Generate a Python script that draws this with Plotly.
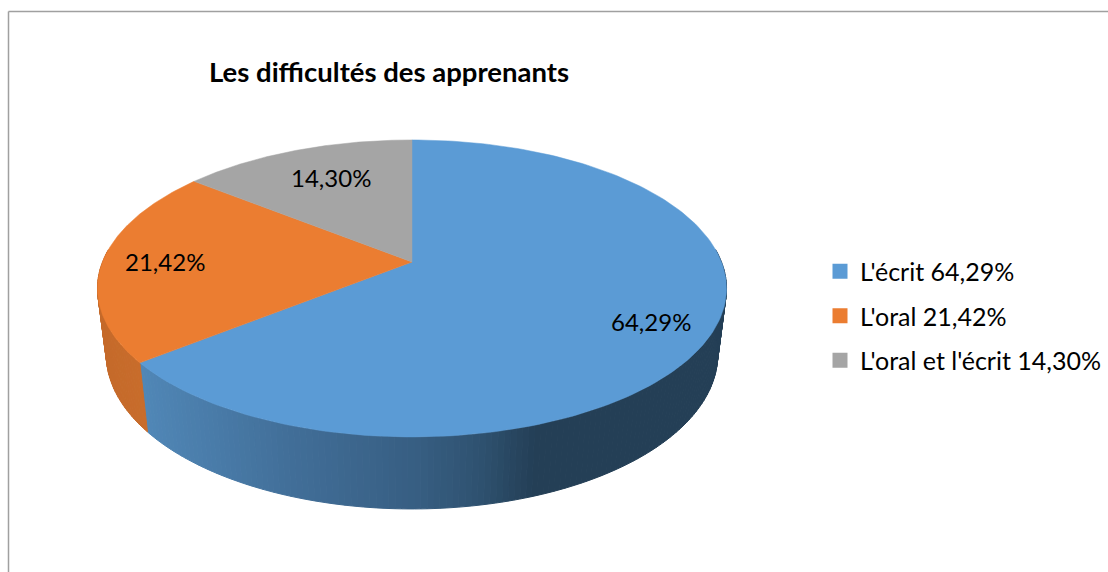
import numpy as np
import plotly.graph_objects as go

# Chart data
categories = ["L'écrit", "L'oral", "L'oral et l'écrit"]
values = [64.29, 21.42, 14.30]
slice_colors = ["#5B9BD5", "#EB7D31", "#A5A5A5"]
chart_title = "Les difficultés des apprenants"

# Perspective of the tilted disc, in pixels of the picture
CX, CY = 412, 262
RX, RY = 309.5, 143.8
TILT = 0.178
SIDE_DROP = 65
SIDE_SX, SIDE_SY = 0.972, 1.04

# Shading of the pie's wall, as (x pixel, colour)
side_shades = {
    "#5B9BD5": [(140, "#5188b8"), (290, "#426f99"), (420, "#375e82"), (480, "#2f5270"), (535, "#243f56"), (740, "#243f56")],
    "#EB7D31": [(100, "#c56a2a"), (150, "#c96d2c")],
}


def fmt(v):
    return f"{v:.2f}%".replace(".", ",")


# Project an angle (clockwise from 12 o'clock) on the top or the bottom rim
def rim(theta, lower=False):
    u, v = np.sin(theta), np.cos(theta)
    w = 1 + TILT * v
    x, y = RX * u / w, -RY * v / w
    if lower:
        return CX + SIDE_SX * x, CY + SIDE_DROP + SIDE_SY * y
    return CX + x, CY + y


def shade(stops, x):
    xs = [s[0] for s in stops]
    rgb = [[int(s[1][i:i + 2], 16) for i in (1, 3, 5)] for s in stops]
    return "rgb(%d,%d,%d)" % tuple(np.interp(x, xs, [c[i] for c in rgb]) for i in range(3))


fig = go.Figure()

fractions = np.array(values) / sum(values)
edges = np.concatenate([[0], np.cumsum(fractions)]) * 2 * np.pi

# Wall first, one thin strip per degree, so the top covers it
for i, color in enumerate(slice_colors):
    if color not in side_shades:
        continue
    start = max(edges[i], np.radians(85))
    stop = min(edges[i + 1], np.radians(275))
    steps = np.linspace(start, stop, int(np.degrees(stop - start)) + 2)
    for t0, t1 in zip(steps[:-1], steps[1:]):
        x0, y0 = rim(t0)
        x1, y1 = rim(t1)
        x2, y2 = rim(t1, lower=True)
        x3, y3 = rim(t0, lower=True)
        c = shade(side_shades[color], (x0 + x1 + x2 + x3) / 4)
        fig.add_trace(go.Scatter(
            x=[x0, x1, x2, x3, x0], y=[y0, y1, y2, y3, y0], mode="lines",
            fill="toself", fillcolor=c, line={"color": c, "width": 1},
            showlegend=False, hoverinfo="skip"))

# Top of the pie
for i, color in enumerate(slice_colors):
    t = np.linspace(edges[i], edges[i + 1], 180)
    x, y = rim(t)
    fig.add_trace(go.Scatter(
        x=np.concatenate([[CX], x, [CX]]), y=np.concatenate([[CY], y, [CY]]),
        mode="lines", fill="toself", fillcolor=color,
        line={"color": color, "width": 0.5},
        name=categories[i], hovertemplate="%{fullData.name}<extra></extra>",
        showlegend=False))

# Legend entries
for i, color in enumerate(slice_colors):
    fig.add_trace(go.Scatter(
        x=[None], y=[None], mode="markers",
        marker={"symbol": "square", "size": 15, "color": color},
        name=f"{categories[i]} {fmt(values[i])}", legendgroup=str(i)))

# Slice labels
label_pos = [(651, 321), (165, 261), (331, 177)]
for (lx, ly), v in zip(label_pos, values):
    fig.add_annotation(x=lx, y=ly, text=fmt(v), showarrow=False,
                       font={"family": "Lato", "size": 24, "color": "black"})

fig.update_layout(
    width=1108, height=572,
    paper_bgcolor="white", plot_bgcolor="white",
    margin={"l": 0, "r": 0, "t": 0, "b": 0},
    font={"family": "Lato", "color": "black"},
    title={"text": f"<b>{chart_title}</b>", "x": 209 / 1108, "xanchor": "left",
           "y": 1 - 72 / 572, "yanchor": "middle",
           "font": {"family": "Lato", "size": 27.5, "color": "black"}},
    legend={"x": 820 / 1108, "y": 1 - 316 / 572, "xanchor": "left", "yanchor": "middle",
            "font": {"family": "Lato", "size": 25}, "tracegroupgap": 9,
            "bgcolor": "rgba(0,0,0,0)"},
    xaxis={"range": [0, 1108], "visible": False, "fixedrange": True},
    yaxis={"range": [572, 0], "visible": False, "fixedrange": True},
    shapes=[
        {"type": "line", "x0": 8.5, "x1": 8.5, "y0": 11.5, "y1": 572, "line": {"color": "#a0a0a0", "width": 1.5}},
        {"type": "line", "x0": 8.5, "x1": 1108, "y0": 11.5, "y1": 11.5, "line": {"color": "#a0a0a0", "width": 1.5}},
    ],
)

fig.write_html("out.html", config={"displayModeBar": False},
               post_script="document.body.style.margin='0';document.body.style.overflow='hidden';")
